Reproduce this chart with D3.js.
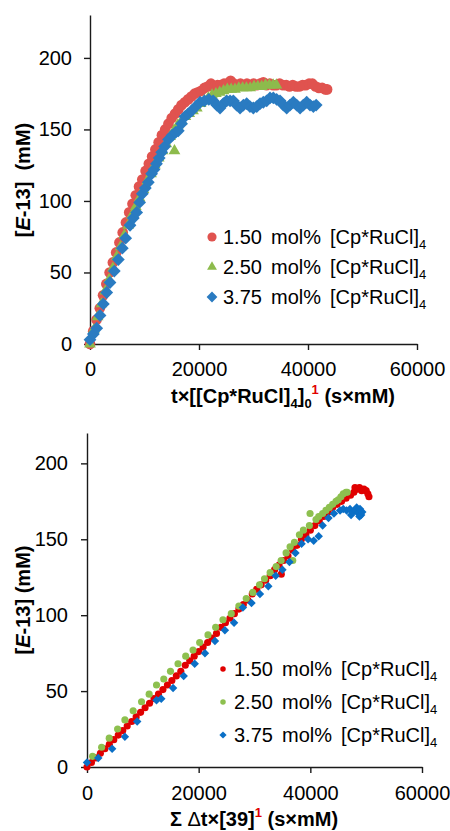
<!DOCTYPE html>
<html>
<head>
<meta charset="utf-8">
<script src="https://cdn.jsdelivr.net/npm/d3@7"></script>
<style>
  body { margin: 0; background: #fff; }
  svg text { font-family: "Liberation Sans", Arial, sans-serif; fill: #000; white-space: pre; }
</style>
</head>
<body>
<svg id="chart" width="450" height="831"></svg>
<script>
// ticks + legend
const xTicks = [0, 20000, 40000, 60000];
const yTicks = [0, 50, 100, 150, 200];
const legendLabels = ["1.50 mol% [Cp*RuCl]", "2.50 mol% [Cp*RuCl]", "3.75 mol% [Cp*RuCl]"];

// top panel: [E-13] vs t*[cat]0^1
const topRed = [[0,0],[600,9],[1200,17],[1800,25],[2400,34],[3000,42],[3600,50],[4200,57],[4800,64],[5400,71],
  [6000,78],[6600,85],[7200,92],[7800,98],[8400,104],[9000,110],[9600,115],[10200,121],[10800,126],[11400,131],
  [12000,136],[12600,141],[13200,146],[13800,150],[14400,154],[15000,158],[15600,161],[16200,164],[16800,167],
  [17400,169],[18000,171],[18600,173],[19200,175],[19800,176],[20400,177],[21000,179],[21600,180],[22200,182],
  [22800,180],[23400,181],[24000,181],[24600,182],[25200,182],[25800,184],[26400,182],[27000,181],[27600,182],
  [28200,181],[28800,182],[29400,181],[30000,182],[30600,181],[31200,182],[31800,183],[32400,181],[33000,182],
  [33600,181],[34200,181],[34800,182],[35400,181],[36000,181],[36600,180],[37200,181],[37800,180],[38400,180],
  [39000,181],[39600,181],[40200,182],[40800,182],[41400,180],[42000,179],[42600,179],[43200,178],[43500,178]];
const topGreen = [[0,0],[700,10],[1400,19],[2100,28],[2800,37],[3500,45],[4200,53],[4900,61],[5600,68],[6300,76],
  [7000,83],[7700,90],[8400,96],[9100,102],[9800,108],[10500,114],[11200,119],[11900,125],[12600,130],[13300,135],
  [14000,140],[14700,145],[15400,149],[15500,135],[16100,153],[16800,156],[17500,159],[18200,161],[18900,163],
  [19600,165],[20300,168],[21000,170],[21700,172],[22400,174],[23100,175],[23800,176],[24500,177],[25200,178],
  [25900,178],[26600,178],[27300,179],[28000,179],[28700,179],[29400,179],[30100,180],[30800,180],[31500,180],
  [32200,181],[32900,181],[33600,181],[34200,181]];
const topBlue = [[0,3],[620,7],[1230,11],[1840,20],[2450,28],[3070,36],[3670,43],[4460,51],[5200,59],[5930,67],
  [6550,74],[7340,83],[7950,88],[8560,92],[9100,99],[9600,105],[10150,109],[10700,113],[11300,119],[11750,122],
  [12200,126],[12700,130],[13150,134],[13700,138],[14400,143],[15100,146],[15700,148],[16200,149],[16800,154],
  [17430,159],[18050,161],[18660,163],[19400,166],[20200,169],[21000,170],[21800,171],[22600,170],[23250,167],
  [23860,165],[24470,168],[25080,170],[25700,170],[26300,170],[26900,167],[27530,165],[28150,167],[28750,168],
  [29350,166],[29970,165],[30600,166],[31200,168],[31800,169],[32420,170],[33030,172],[33640,172],[34250,171],
  [34870,170],[35480,167],[36090,165],[36700,167],[37310,169],[37920,167],[38540,165],[39150,167],[39760,169],
  [40370,167],[40980,166],[41500,167]];

// bottom panel: [E-13] vs sum dt*[39]^1
const botRed = [[0,0],[800,3],[1600,6],[2400,9],[3200,12],[4000,15],[4800,18],[5600,21],[6400,24],[7200,27],
  [8000,30],[8800,33],[9600,36],[10400,39],[11200,42],[12000,45],[12800,48],[13600,51],[14400,54],[15200,57],
  [16000,60],[16800,63],[17600,67],[18400,70],[19200,73],[20000,76],[20800,79],[21600,82],[22400,85],[23200,88],
  [24000,92],[24800,95],[25600,98],[26400,101],[27200,104],[28000,107],[28800,110],[29600,114],[30400,117],
  [31200,120],[32000,123],[32800,126],[33600,130],[34400,133],[34800,127],[35200,136],[36000,139],[36800,143],
  [37600,146],[38400,150],[39200,153],[40000,156],[40800,159],[41600,162],[42400,165],[43200,168],[44000,171],
  [44800,173],[45600,175],[46400,177],[47200,179],[47800,181],[48000,184],[48400,183],[48800,184],[49200,182],
  [49600,183],[50000,182],[50300,180],[50500,178]];
const botGreen = [[1000,7],[2620,13],[3980,19],[5480,25],[6790,31],[8270,37],[9770,43],[11130,48],[12450,54],
  [13750,58],[14950,63],[16300,68],[17680,73],[18990,77],[20180,82],[21670,87],[23040,92],[24350,97],[25840,101],
  [27200,106],[28520,111],[29700,115],[30900,120],[31790,124],[32800,128],[33880,132],[34770,136],[35660,141],
  [36370,145],[36850,136],[37150,148],[38040,153],[38760,156],[39830,159],[39950,167],[41020,163],[41500,165],
  [42200,167],[42800,169],[43400,171],[44000,173],[44600,175],[45000,176],[45480,178],[45900,180],[46380,181],
  [46600,181]];
const botBlue = [[0,3],[2020,6],[4500,12],[6790,20],[8990,30],[12450,44],[13300,45],[15420,52],[17320,60],
  [19290,68],[21130,75],[22920,83],[24700,90],[26340,95],[27920,105],[29460,108],[30980,114],[32470,119],
  [33800,126],[35000,130],[36260,135],[37330,141],[38430,147],[39600,150],[40600,149],[41500,152],[42200,159],
  [43250,164],[44230,167],[45330,169],[45900,170],[46500,169],[47100,170],[47300,166],[47600,168],[48000,169],
  [48300,171],[48600,167],[48800,165],[48900,170],[49100,166],[49300,168]];

const svg = d3.select("#chart");
const axisColor = "#1a1a1a";

function marker(kind, size) {
    if (kind === "circle") return d3.symbol(d3.symbolCircle, size)();
    if (kind === "triangle") return d3.symbol(d3.symbolTriangle, size)();
    return d3.symbol(d3.symbolSquare, size)();
}

function drawPanel(cfg) {
    const g = svg.append("g");
    const x = d3.scaleLinear().domain([0, 60000]).range([cfg.left, cfg.right]);
    const y = d3.scaleLinear().domain([0, cfg.ymax]).range([cfg.bottom, cfg.top]);

    // x axis
    const xa = g.append("g")
        .attr("transform", `translate(0,${cfg.bottom})`)
        .call(d3.axisBottom(x).tickValues(xTicks).tickSize(6).tickSizeOuter(0)
            .tickPadding(cfg.xPad).tickFormat(d3.format("d")));
    // y axis
    const ya = g.append("g")
        .attr("transform", `translate(${cfg.left},0)`)
        .call(d3.axisLeft(y).tickValues(yTicks).tickSize(6).tickSizeOuter(0)
            .tickPadding(cfg.yPad).tickFormat(d3.format("d")));
    [xa, ya].forEach(a => {
        a.select(".domain").attr("stroke", axisColor).attr("stroke-width", 1.4);
        a.selectAll(".tick line").attr("stroke", axisColor).attr("stroke-width", 1.4);
        a.selectAll(".tick text").attr("font-size", 20).attr("fill", "#000")
            .style("font-family", '"Liberation Sans", Arial, sans-serif');
    });

    // the points
    cfg.series.forEach(s => {
        g.append("g")
            .selectAll("path")
            .data(s.data)
            .join("path")
                .attr("d", marker(s.kind, s.size))
                .attr("transform", d => `translate(${x(d[0])},${y(d[1])})` + (s.kind === "diamond" ? " rotate(45)" : ""))
                .attr("fill", s.color);
    });

    // legend
    const lg = g.append("g");
    cfg.series.forEach((s, i) => {
        const cy = cfg.legY + i * cfg.legStep;
        lg.append("path")
            .attr("d", marker(s.kind, s.legSize))
            .attr("transform", `translate(${cfg.legX},${cy})` + (s.kind === "diamond" ? " rotate(45)" : ""))
            .attr("fill", s.color);
        const t = lg.append("text")
            .attr("x", cfg.legX + 11)
            .attr("y", cy + 7)
            .attr("font-size", 20)
            .attr("word-spacing", 3.5);
        t.append("tspan").text(legendLabels[i]);
        t.append("tspan").attr("font-size", 13).attr("dy", 5).text("4");
    });

    // y title
    const yt = g.append("text")
        .attr("transform", `translate(${cfg.yTitleX},${cfg.yTitleY}) rotate(-90)`)
        .attr("text-anchor", "middle")
        .attr("font-size", 20)
        .attr("font-weight", "bold");
    yt.append("tspan").text("[");
    yt.append("tspan").attr("font-style", "italic").text("E");
    yt.append("tspan").text(cfg.yTitleRest);

    // x title
    const xt = g.append("text")
        .attr("x", cfg.xTitleX)
        .attr("y", cfg.xTitleY)
        .attr("text-anchor", "middle")
        .attr("font-size", 20)
        .attr("font-weight", "bold");
    cfg.xTitle(xt);
}

drawPanel({
    left: 90, right: 417, top: 15, bottom: 344, ymax: 230,
    xPad: 12, yPad: 12,
    series: [
        { data: topRed, kind: "circle", size: 90, legSize: 66, color: "#E0534F" },
        { data: topGreen, kind: "triangle", size: 60, legSize: 42, color: "#8DBB4C" },
        { data: topBlue, kind: "diamond", size: 82, legSize: 58, color: "#2A7BC1" }
    ],
    legX: 212, legY: 237, legStep: 30,
    yTitleX: 30, yTitleY: 180, yTitleRest: "-13]  (mM)",
    xTitleX: 283, xTitleY: 403,
    xTitle: t => {
        t.append("tspan").text("t×[[Cp*RuCl]");
        t.append("tspan").attr("font-size", 13).attr("dy", 5).text("4");
        t.append("tspan").attr("dy", -5).text("]");
        t.append("tspan").attr("font-size", 13).attr("dy", 5).text("0");
        t.append("tspan").attr("font-size", 13).attr("dy", -14).attr("fill", "#E00000").text("1");
        t.append("tspan").attr("dy", 9).text(" (s×mM)");
    }
});

drawPanel({
    left: 87, right: 422, top: 433, bottom: 767, ymax: 220,
    xPad: 13, yPad: 13,
    series: [
        { data: botRed, kind: "circle", size: 40, legSize: 24, color: "#E00000" },
        { data: botGreen, kind: "circle", size: 40, legSize: 24, color: "#8DC04F" },
        { data: botBlue, kind: "diamond", size: 36, legSize: 26, color: "#0A6FC6" }
    ],
    legX: 223, legY: 669, legStep: 33,
    yTitleX: 30, yTitleY: 600, yTitleRest: "-13] (mM)",
    xTitleX: 254, xTitleY: 826,
    xTitle: t => {
        t.append("tspan").text("Σ ");
        t.append("tspan").attr("font-weight", "normal").text("Δ");
        t.append("tspan").text("t×[39]");
        t.append("tspan").attr("font-size", 13).attr("dy", -9).attr("fill", "#E00000").text("1");
        t.append("tspan").attr("dy", 9).text(" (s×mM)");
    }
});
</script>
</body>
</html>
